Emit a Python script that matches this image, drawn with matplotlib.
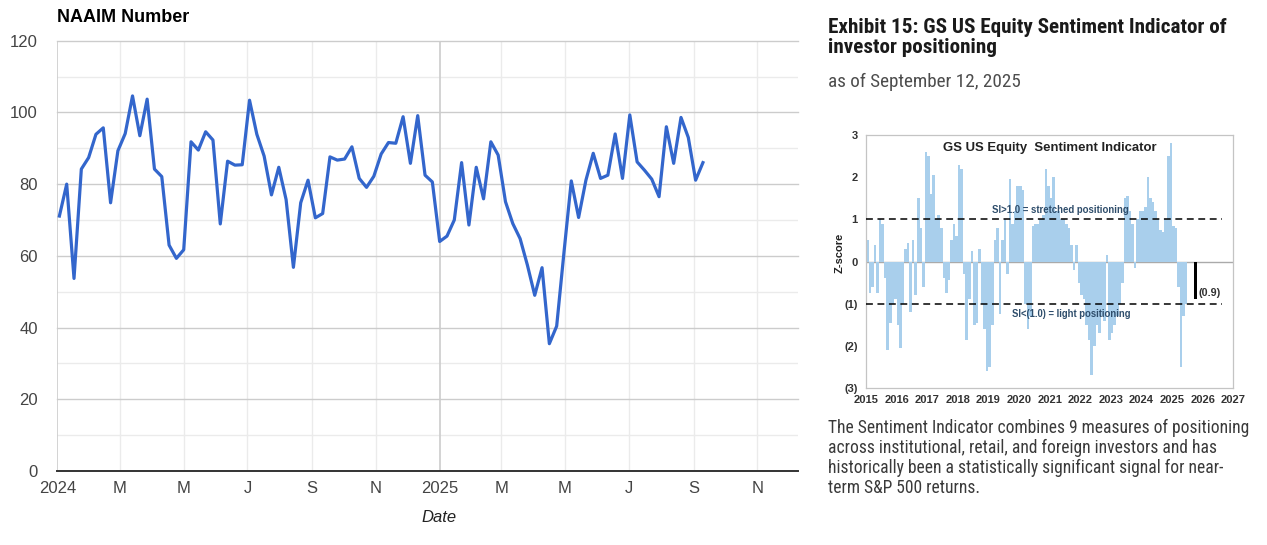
import numpy as np
import pandas as pd
import matplotlib
matplotlib.use("Agg")
import matplotlib.pyplot as plt
from matplotlib import font_manager as fm

W, H = 1267, 545

# NAAIM exposure index, weekly readings starting 2024-01-03
naaim_start = "2024-01-03"
naaim_values = [71.1, 80.0, 53.7, 84.2, 87.4, 93.9, 95.7, 74.8, 89.3, 94.1,
                104.6, 93.5, 103.7, 84.2, 82.1, 63.0, 59.3, 61.7, 91.8, 89.5,
                94.6, 92.3, 68.9, 86.4, 85.3, 85.4, 103.4, 93.9, 87.8, 77.0,
                84.7, 75.7, 56.8, 74.8, 81.1, 70.6, 71.8, 87.6, 86.7, 87.0,
                90.4, 81.6, 79.1, 82.2, 88.4, 91.6, 91.4, 98.8, 85.8, 99.1,
                82.5, 80.6, 64.0, 65.5, 70.0, 86.0, 68.6, 84.7, 75.9, 91.8,
                88.1, 75.1, 69.0, 64.8, 57.4, 49.0, 56.7, 35.5, 40.4, 61.0,
                80.9, 70.7, 81.1, 88.6, 81.6, 82.5, 94.0, 81.6, 99.3, 86.2,
                83.9, 81.4, 76.5, 96.0, 85.8, 98.6, 93.0, 81.1, 86.0]

x_ticks = ["2024-01-01", "2024-03-01", "2024-05-01", "2024-07-01", "2024-09-01", "2024-11-01",
           "2025-01-01", "2025-03-01", "2025-05-01", "2025-07-01", "2025-09-01", "2025-11-01"]
x_labels = ["2024", "M", "M", "J", "S", "N", "2025", "M", "M", "J", "S", "N"]
y_ticks = [0, 20, 40, 60, 80, 100, 120]

# GS US Equity Sentiment Indicator, monthly z-score
gs_2015 = [0.5, -0.75, -0.6, 0.4, -0.75, 1.0, 0.9, -0.4, -2.1, -1.45, -1.0, -0.9]
gs_2016 = [-1.5, -2.05, -1.0, 0.3, 0.45, -1.2, 0.5, -0.8, 1.5, 0.8, -0.6, 2.6]
gs_2017 = [2.5, 1.6, 2.05, 1.0, 1.1, 0.8, -0.4, -0.75, -0.45, 0.5, 0.9, 0.6]
gs_2018 = [2.3, 2.2, -0.3, -1.85, -0.9, 0.25, -1.5, -1.45, 0.3, -1.0, -1.6, -2.6]
gs_2019 = [-2.5, -1.5, 0.5, 0.8, -1.25, 0.5, 1.0, -0.3, 1.95, 0.9, 1.2, 1.8]
gs_2020 = [1.8, 1.7, -1.0, -1.6, -1.3, 0.85, 0.9, 0.9, 1.0, 1.1, 2.2, 1.8]
gs_2021 = [1.5, 2.0, 1.2, 1.2, 1.0, 1.0, 0.9, 0.8, 0.4, -0.2, 0.4, -0.5]
gs_2022 = [-0.8, -0.9, -1.5, -1.85, -2.7, -2.0, -1.5, -1.7, -1.3, -1.4, 0.15, -1.85]
gs_2023 = [-1.7, -1.5, -1.3, -1.0, -0.5, 1.5, 1.55, 1.2, 0.9, -0.15, 1.0, 1.2]
gs_2024 = [1.2, 1.3, 2.0, 1.5, 1.4, 1.2, 1.0, 0.75, 0.7, 1.0, 2.5, 2.8]
gs_2025 = [0.85, 0.8, -0.6, -2.5, -1.3, -1.0]
gs_last_date = 2025.71
gs_last_value = -0.9
gs_year_ticks = list(range(2015, 2028))
gs_z_ticks = [3, 2, 1, 0, -1, -2, -3]
gs_z_labels = ["3", "2", "1", "0", "(1)", "(2)", "(3)"]

heading = ["Exhibit 15: GS US Equity Sentiment Indicator of", "investor positioning"]
subheading = "as of September 12, 2025"
note = ["The Sentiment Indicator combines 9 measures of positioning",
        "across institutional, retail, and foreign investors and has",
        "historically been a statistically significant signal for near-",
        "term S&P 500 returns."]

plt.rcParams["font.family"] = ["Liberation Sans", "DejaVu Sans"]

installed = {f.name for f in fm.fontManager.ttflist}
narrow = next((n for n in ["Liberation Sans Narrow", "Roboto Condensed", "Open Sans Condensed"]
               if n in installed), "Roboto")


def px(x, y):
    return x / W, 1 - y / H


fig = plt.figure(figsize=(W / 100, H / 100), dpi=100)
renderer = fig.canvas.get_renderer()


def fit(texts, width):
    w = texts[0].get_window_extent(renderer).width
    size = texts[0].get_fontsize() * width / w
    for t in texts:
        t.set_fontsize(size)


# ---- left: NAAIM line chart ----
ax = fig.add_axes([57.3 / W, 1 - 471 / H, (798 - 57.3) / W, (471 - 40.7) / H])
dates = pd.date_range(naaim_start, periods=len(naaim_values), freq="7D")
ax.plot(dates, naaim_values, color="#3366cc", lw=2.3, zorder=5)

ax.set_ylim(0, 120)
ax.set_xlim(pd.Timestamp("2024-01-01"), pd.Timestamp("2025-12-10"))
for v in range(10, 120, 20):
    ax.axhline(v, color="#ebebeb", lw=1, zorder=1)
for v in y_ticks[1:]:
    ax.axhline(v, color="#cccccc", lw=1, zorder=2, clip_on=False)
tick_dates = pd.to_datetime(x_ticks)
for d, lab in zip(tick_dates, x_labels):
    major = lab.isdigit()
    ax.axvline(d, color="#cccccc" if major else "#ebebeb", lw=1.2 if major else 1, zorder=2 if major else 1)
ax.set_yticks(y_ticks)
ax.set_xticks(tick_dates)
ax.set_xticklabels(x_labels)
ax.tick_params(length=0, labelsize=12, colors="#444444")
ax.tick_params(axis="y", pad=14)
ax.tick_params(axis="x", pad=7)
for s in ["top", "right", "left"]:
    ax.spines[s].set_visible(False)
ax.spines["bottom"].set_color("#333333")
ax.spines["bottom"].set_linewidth(1.4)
ax.spines["bottom"].set_zorder(6)

fig.text(*px(57, 17), "NAAIM Number", ha="left", va="center", fontsize=13, fontweight="bold", color="black")
fig.text(*px(439, 517), "Date", ha="center", va="center", fontsize=12, style="italic", color="#222222")

# ---- right: GS exhibit ----
h1 = fig.text(*px(828, 33.3), heading[0], ha="left", va="baseline", fontsize=13,
              fontweight="bold", family=narrow, color="#1a1a1a")
h2 = fig.text(*px(828, 53.3), heading[1], ha="left", va="baseline", fontsize=13,
              fontweight="bold", family=narrow, color="#1a1a1a")
fit([h1, h2], 398)
sub = fig.text(*px(828, 87.3), subheading, ha="left", va="baseline", fontsize=12,
               family=narrow, color="#4d4d4d")
fit([sub], 193)

gx = fig.add_axes([866 / W, 1 - 388 / H, (1233.3 - 866) / W, (388 - 135) / H])
gs_values = np.array(gs_2015 + gs_2016 + gs_2017 + gs_2018 + gs_2019 + gs_2020 +
                     gs_2021 + gs_2022 + gs_2023 + gs_2024 + gs_2025)
gs_x = 2015 + (np.arange(len(gs_values)) + 0.5) / 12
gx.bar(gs_x, gs_values, width=1 / 12, color="#a9cfec", linewidth=0, zorder=2)
gx.axhline(0, color="#aaaaaa", lw=1, zorder=1)
gx.plot([2015, 2026.63], [1, 1], color="black", lw=1.1, dashes=(4.5, 3), zorder=3)
gx.plot([2015, 2026.63], [-1, -1], color="black", lw=1.1, dashes=(4.5, 3), zorder=3)
gx.bar(gs_last_date, gs_last_value, width=0.11, color="black", align="edge", zorder=4)

gx.set_xlim(2015, 2027)
gx.set_ylim(-3, 3)
gx.set_xticks(gs_year_ticks)
gx.set_xticklabels([str(y) for y in gs_year_ticks])
gx.set_yticks(gs_z_ticks)
gx.set_yticklabels(gs_z_labels)
gx.tick_params(length=0, labelsize=8, colors="#333333")
gx.tick_params(axis="y", pad=6)
gx.tick_params(axis="x", pad=5)
for lab in gx.get_xticklabels() + gx.get_yticklabels():
    lab.set_fontweight("bold")
for s in gx.spines.values():
    s.set_color("#c4c4c4")
    s.set_linewidth(0.9)

t = fig.text(*px(1050, 148.3), "GS US Equity  Sentiment Indicator", ha="center", va="center",
             fontsize=9.4, fontweight="bold", color="#222222")
fit([t], 213)
t = fig.text(*px(1060.5, 210), "SI>1.0 = stretched positioning", ha="center", va="center",
             fontsize=7, fontweight="bold", color="#2e4d6b")
fit([t], 138)
t = fig.text(*px(1071.7, 314), "SI<(1.0) = light positioning", ha="center", va="center",
             fontsize=7, fontweight="bold", color="#2e4d6b")
fit([t], 120)
t = fig.text(*px(1198.3, 293.3), "(0.9)", ha="left", va="center", fontsize=8,
             fontweight="bold", color="#333333")
fit([t], 22)
fig.text(*px(839.3, 253), "Z-score", ha="center", va="center", rotation=90, fontsize=8,
         fontweight="bold", color="#222222")

lines = []
for i, line in enumerate(note):
    lines.append(fig.text(*px(828, 428.3 + 20 * i), line, ha="left", va="center", fontsize=11.5,
                          family=narrow, color="#3a3a3a"))
fit(lines, 420)

fig.savefig("out.png", dpi=100)
